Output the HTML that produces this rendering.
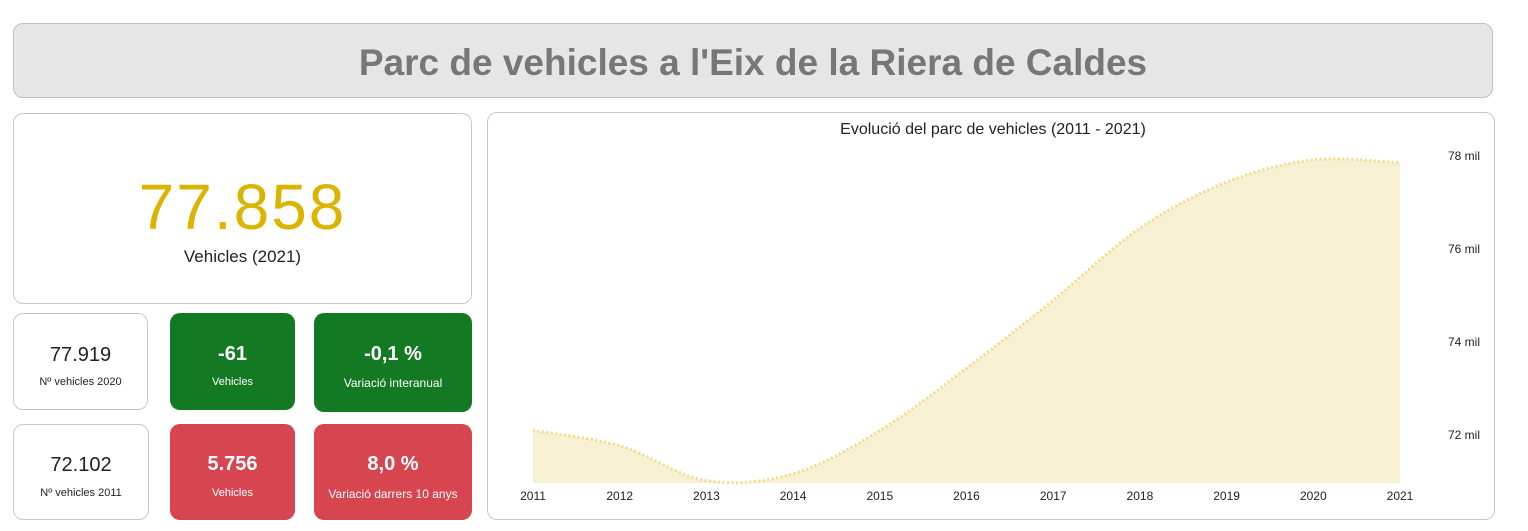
<!DOCTYPE html>
<html><head><meta charset="utf-8"><style>
body{margin:0;width:1528px;height:531px;background:#fff;font-family:"Liberation Sans",sans-serif;position:relative;overflow:hidden}
.box{position:absolute;box-sizing:border-box;border:1px solid #c8c8c8;border-radius:10px;background:#fff;text-align:center}
.title{left:13px;top:23px;width:1480px;height:75px;background:#e6e6e6;border-color:#c0c0c0;font-weight:bold;font-size:37px;color:#777;line-height:78px}
.v{position:absolute;left:0;right:0;text-align:center}
.g{background:#137a23;border:none;color:#fff}
.r{background:#d64550;border:none;color:#fff}
</style></head><body>
<div class="box title">Parc de vehicles a l'Eix de la Riera de Caldes</div>
<div class="box" style="left:13px;top:113px;width:459px;height:191px">
 <div class="v" style="top:56px;font-size:64px;color:#dbb400;letter-spacing:2px">77.858</div>
 <div class="v" style="top:133px;font-size:17px;color:#222">Vehicles (2021)</div>
</div>
<div class="box" style="left:13px;top:313px;width:135px;height:97px">
 <div class="v" style="top:30px;font-size:20px;color:#222">77.919</div><div class="v" style="top:62px;font-size:11px;color:#222">Nº vehicles 2020</div></div>
<div class="box g" style="left:170px;top:313px;width:125px;height:97px">
 <div class="v" style="top:30px;font-size:20px;font-weight:bold">-61</div><div class="v" style="top:63px;font-size:11px">Vehicles</div></div>
<div class="box g" style="left:314px;top:313px;width:158px;height:99px">
 <div class="v" style="top:30px;font-size:20px;font-weight:bold">-0,1 %</div><div class="v" style="top:63px;font-size:12px">Variació interanual</div></div>
<div class="box" style="left:13px;top:424px;width:136px;height:96px">
 <div class="v" style="top:29px;font-size:20px;color:#222">72.102</div><div class="v" style="top:62px;font-size:11px;color:#222">Nº vehicles 2011</div></div>
<div class="box r" style="left:170px;top:424px;width:125px;height:96px">
 <div class="v" style="top:29px;font-size:20px;font-weight:bold">5.756</div><div class="v" style="top:63px;font-size:11px">Vehicles</div></div>
<div class="box r" style="left:314px;top:424px;width:158px;height:96px">
 <div class="v" style="top:29px;font-size:20px;font-weight:bold">8,0 %</div><div class="v" style="top:63px;font-size:12px">Variació darrers 10 anys</div></div>
<div class="box" style="left:487px;top:112px;width:1008px;height:408px"></div>
<svg id="chart" width="1528" height="531" style="position:absolute;left:0;top:0"></svg>
<script>
const years=[2011,2012,2013,2014,2015,2016,2017,2018,2019,2020,2021];
const values=[72102,71770,71020,71170,72100,73440,74900,76450,77440,77919,77858];
const yTicks=[72000,74000,76000,78000];
const yTickLabels=["72 mil","74 mil","76 mil","78 mil"];
const svg=document.getElementById('chart');const NS='http://www.w3.org/2000/svg';
const x0=533,x1=1400,yBase=483,yMin=70970,pxPer=0.0465;
const X=i=>x0+(x1-x0)*i/(years.length-1);
const Y=v=>yBase-(v-yMin)*pxPer;
function mk(t,a){const e=document.createElementNS(NS,t);for(const k in a)e.setAttribute(k,a[k]);svg.appendChild(e);return e;}
const t=mk('text',{x:993,y:134,'text-anchor':'middle','font-size':16,fill:'#222','font-family':'Liberation Sans'});t.textContent='Evolució del parc de vehicles (2011 - 2021)';


const pts=values.map((v,i)=>[X(i),Y(v)]);
let d='M'+pts[0][0]+','+pts[0][1];
for(let i=0;i<pts.length-1;i++){const p0=pts[Math.max(i-1,0)],p1=pts[i],p2=pts[i+1],p3=pts[Math.min(i+2,pts.length-1)];
d+=` C${p1[0]+(p2[0]-p0[0])/6},${p1[1]+(p2[1]-p0[1])/6} ${p2[0]-(p3[0]-p1[0])/6},${p2[1]-(p3[1]-p1[1])/6} ${p2[0]},${p2[1]}`;}
const area=mk('path',{d:d+` L${x1},${yBase} L${x0},${yBase} Z`,fill:'#f8f0d2'});


const line=mk('path',{d:d,fill:'none',stroke:'#f0dc8c','stroke-width':3,'stroke-dasharray':'2 2.5'});


years.forEach((yr,i)=>{const e=mk('text',{x:X(i),y:500,'text-anchor':'middle','font-size':12,fill:'#222'});e.textContent=yr;

});
yTicks.forEach((v,i)=>{const e=mk('text',{x:1448,y:Y(v)+4,'font-size':12,fill:'#222'});e.textContent=yTickLabels[i];

});
</script>
</body></html>
